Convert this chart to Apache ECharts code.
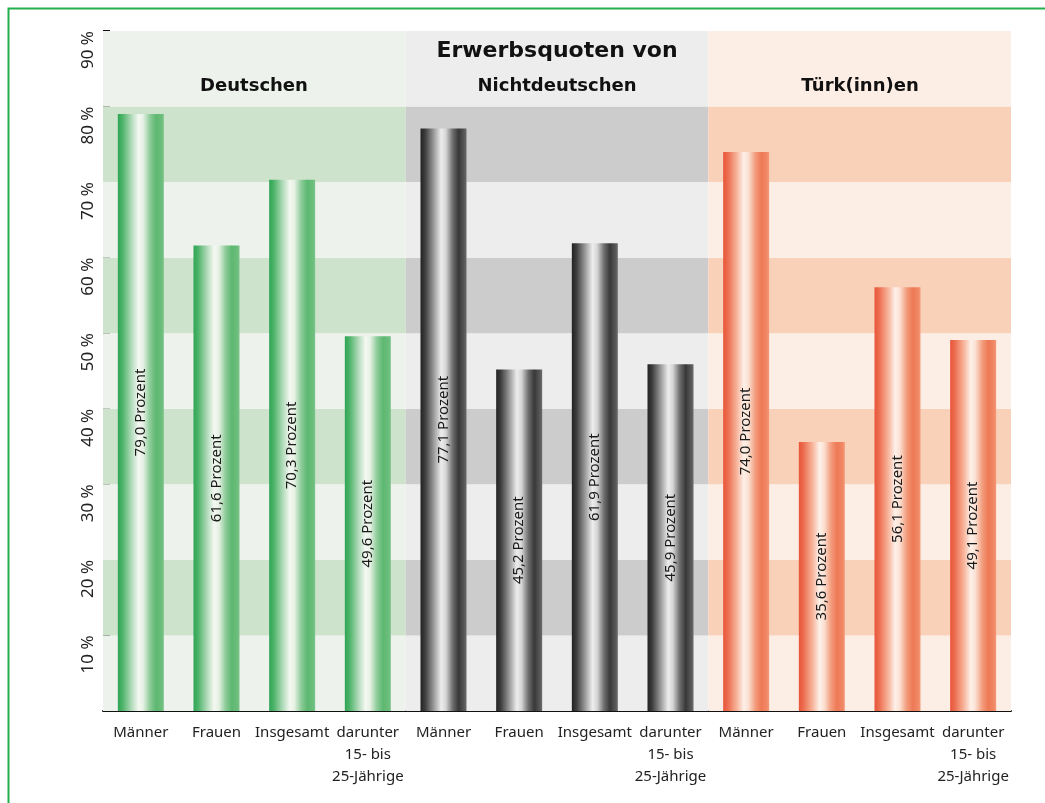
<!DOCTYPE html>
<html>
<head>
<meta charset="utf-8">
<script src="https://cdn.jsdelivr.net/npm/echarts@6/dist/echarts.min.js"></script>
<style>
  html, body { margin: 0; padding: 0; background: #fff; }
  #main { width: 1045px; height: 803px; }
</style>
</head>
<body>
<div id="main"></div>
<script>
// Kategorien (je Gruppe gleich)
var categories = [
  'Männer', 'Frauen', 'Insgesamt', 'darunter\n15- bis\n25-Jährige',
  'Männer', 'Frauen', 'Insgesamt', 'darunter\n15- bis\n25-Jährige',
  'Männer', 'Frauen', 'Insgesamt', 'darunter\n15- bis\n25-Jährige'
];
var groups = ['Deutschen', 'Nichtdeutschen', 'Türk(inn)en'];
// Erwerbsquoten in Prozent
var values = [79.0, 61.6, 70.3, 49.6, 77.1, 45.2, 61.9, 45.9, 74.0, 35.6, 56.1, 49.1];
var yMax = 90;
var bandSize = 10;

// Farben
var bandLight = ['#edf2ec', '#ededed', '#fdeee5'];
var bandDark = ['#cde3cb', '#cccccc', '#f9d0b8'];
var barStops = [
  [[0, '#2fa555'], [0.1, '#4cb368'], [0.3, '#b3dbbb'], [0.45, '#f4f8f2'], [0.55, '#e6f1e4'], [0.7, '#8ccb98'], [0.83, '#5db871'], [0.95, '#6bbd7b'], [1, '#7cc48a']],
  [[0, '#222222'], [0.1, '#3d3d3d'], [0.3, '#a0a0a0'], [0.45, '#ededed'], [0.55, '#d6d6d6'], [0.7, '#6e6e6e'], [0.83, '#383838'], [0.95, '#585858'], [1, '#6c6c6c']],
  [[0, '#e8553a'], [0.1, '#ec6d4f'], [0.3, '#f7b59c'], [0.45, '#fdf1e9'], [0.55, '#fbe0d2'], [0.7, '#f29c7c'], [0.83, '#ee7956'], [0.95, '#f08866'], [1, '#f49a7a']]
];

function gradient(gi) {
  return new echarts.graphic.LinearGradient(0, 0, 1, 0,
    barStops[gi].map(function (s) { return { offset: s[0], color: s[1] }; }));
}

var series = [];
// Hintergrund-Streifen je 10 %
for (var b = 0; b < yMax / bandSize; b++) {
  series.push({
    type: 'bar',
    xAxisIndex: 1,
    stack: 'bg',
    barWidth: '100%',
    silent: true,
    z: 1,
    data: groups.map(function (g, gi) {
      return { value: bandSize, itemStyle: { color: b % 2 ? bandDark[gi] : bandLight[gi] } };
    })
  });
}
// eigentliche Balken
series.push({
  type: 'bar',
  xAxisIndex: 0,
  barWidth: 46,
  z: 3,
  data: values.map(function (v, i) {
    return { value: v, itemStyle: { color: gradient(Math.floor(i / 4)) } };
  }),
  label: {
    show: true,
    position: 'inside',
    rotate: 90,
    color: '#1a1a1a',
    fontFamily: 'Noto Sans',
    fontSize: 15,
    formatter: function (p) { return p.value.toFixed(1).replace('.', ',') + ' Prozent'; }
  }
});

var chart = echarts.init(document.getElementById('main'));
chart.setOption({
  animation: false,
  grid: { left: 103, right: 34, top: 31, bottom: 92 },
  xAxis: [{
    type: 'category',
    data: categories,
    axisLine: { lineStyle: { color: '#111', width: 2 } },
    axisTick: { alignWithLabel: true, length: 6, lineStyle: { color: '#111', width: 1.5 } },
    axisLabel: {
      interval: 0, margin: 11, color: '#222',
      fontFamily: 'Noto Sans', fontSize: 15, lineHeight: 22
    }
  }, {
    type: 'category',
    data: groups,
    show: false,
    axisLine: { show: false },
    axisTick: { show: false },
    axisLabel: { show: false }
  }],
  yAxis: {
    type: 'value',
    min: 0, max: yMax, interval: bandSize,
    axisLine: { show: false, lineStyle: { color: 'rgba(0,0,0,0)' } },
    splitLine: { show: false },
    axisTick: { show: true, inside: true, length: 7, lineStyle: { color: '#111', width: 2 } },
    axisLabel: {
      rotate: 90, margin: 6, align: 'right', verticalAlign: 'bottom',
      color: '#222', fontFamily: 'Noto Sans', fontSize: 17,
      formatter: function (v) { return v === 0 ? '' : v + ' %'; }
    }
  },
  graphic: [
    { type: 'rect', silent: true, z: 100,
      shape: { x: 8.5, y: 8.5, width: 1100, height: 900 },
      style: { fill: null, stroke: '#22b04c', lineWidth: 2 } },
    { type: 'text', x: 557, y: 51, z: 50,
      style: { text: 'Erwerbsquoten von', font: 'bold 22px "DejaVu Sans"', align: 'center', verticalAlign: 'middle', fill: '#111' } },
    { type: 'text', x: 557, y: 86, z: 50,
      style: { text: groups[1], font: 'bold 18px "DejaVu Sans"', align: 'center', verticalAlign: 'middle', fill: '#111' } },
    { type: 'text', x: 254, y: 86, z: 50,
      style: { text: groups[0], font: 'bold 18px "DejaVu Sans"', align: 'center', verticalAlign: 'middle', fill: '#111' } },
    { type: 'text', x: 860, y: 86, z: 50,
      style: { text: groups[2], font: 'bold 18px "DejaVu Sans"', align: 'center', verticalAlign: 'middle', fill: '#111' } }
  ],
  series: series
});
</script>
</body>
</html>
